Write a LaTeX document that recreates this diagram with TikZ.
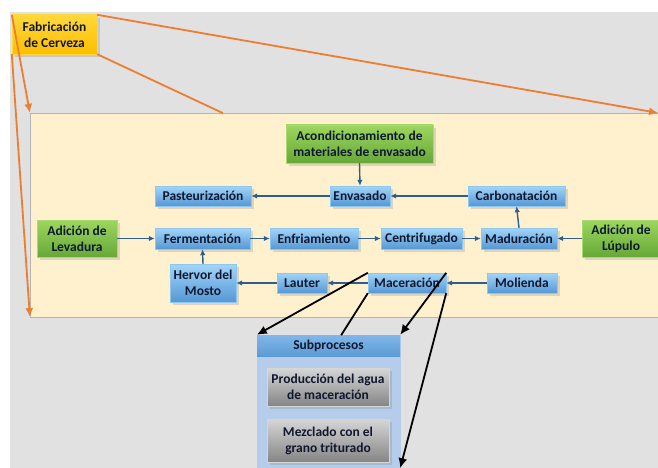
\documentclass[tikz,border=0pt]{standalone}
\usepackage{fontspec}
\setmainfont{Carlito}
\usetikzlibrary{calc,shadows,arrows.meta}

\definecolor{bgGray}{HTML}{E1E1E1}
\definecolor{panelBeige}{HTML}{FFF1CE}
\definecolor{lineOrange}{HTML}{ED7D31}
\definecolor{lineBlue}{HTML}{2F5D8C}
\definecolor{blueTop}{HTML}{A2D5F8}
\definecolor{blueBot}{HTML}{5598D6}
\definecolor{blueEdge}{HTML}{8CC8F2}
\definecolor{greenTop}{HTML}{9DD65E}
\definecolor{greenBot}{HTML}{66A838}
\definecolor{greenEdge}{HTML}{A8DA70}
\definecolor{yellowTop}{HTML}{FFD83A}
\definecolor{yellowBot}{HTML}{FFBE00}
\definecolor{grayTop}{HTML}{D6D6D6}
\definecolor{grayBot}{HTML}{858585}
\definecolor{subBody}{HTML}{B5CDEB}
\definecolor{subTop}{HTML}{82B6E8}
\definecolor{subBot}{HTML}{5B9BD5}
\definecolor{textDark}{HTML}{101830}

\tikzstyle{block} = [draw, rectangle, minimum height=20pt, inner sep=1pt,
                     align=center, text=textDark,
                     font=\fontsize{13.5}{16}\selectfont\bfseries,
                     drop shadow={opacity=0.25,shadow xshift=2.5pt,shadow yshift=-3pt}]
\tikzstyle{proc} = [block, draw=blueEdge, top color=blueTop, bottom color=blueBot]
\tikzstyle{feed} = [block, draw=greenEdge, top color=greenTop, bottom color=greenBot,
                    minimum height=37pt]
\tikzstyle{subitem} = [block, draw=grayTop, top color=grayTop, bottom color=grayBot,
                       minimum width=122pt]

\begin{document}
\begin{tikzpicture} [x=1pt, y=-1pt, >={Latex[length=6pt,width=5.5pt]}]

\useasboundingbox (0,0) rectangle (658,468);

\fill[bgGray] (10,12) rectangle (658,468);

\node at (344,215)[rectangle,fill=panelBeige,draw=bgGray!80!black,very thin,
                   minimum width=628pt,minimum height=204pt,inner sep=0pt]
                   (panel) {};

\node at (54.5,34.5)[block,draw=yellowTop,top color=yellowTop,bottom color=yellowBot,
                     minimum width=85pt,minimum height=39pt]
                     (fab) {Fabricación\\de Cerveza};

% lines from the title to the panel
\draw[lineOrange,line width=1.8pt]
      (fab.south east) -- ($(fab.south east)!0.224!(panel.south east)$);
\draw[-{Latex[length=9pt,width=8pt]},lineOrange,line width=1.8pt]
      (fab.north east) -- (panel.north east);
\draw[-{Latex[length=9pt,width=8pt]},lineOrange,line width=1.8pt]
      (fab.north west) -- (panel.north west);
\draw[-{Latex[length=9pt,width=8pt]},lineOrange,line width=1.8pt]
      (fab.south west) -- (panel.south west);

% top row
\node at (359.5,144)[feed,minimum width=147pt,minimum height=38pt]
      (acond) {Acondicionamiento de\\materiales de envasado};

\node at (203,196)[proc,minimum width=96pt] (past) {Pasteurización};
\node at (360,196)[proc,minimum width=60pt] (env) {Envasado};
\node at (516.5,196)[proc,minimum width=97pt] (carb) {Carbonatación};

% middle row
\node at (77,238.5)[feed,minimum width=80pt] (lev) {Adición de\\Levadura};
\node at (202.5,238.5)[proc,minimum width=95pt,minimum height=21pt] (ferm) {Fermentación};
\node at (314,238.5)[proc,minimum width=88pt,minimum height=21pt] (enfr) {Enfriamiento};
\node at (421.5,238.5)[proc,minimum width=81pt,minimum height=21pt] (cent) {Centrifugado};
\node at (519,238.5)[proc,minimum width=76pt,minimum height=21pt] (mad) {Maduración};
\node at (621,238.5)[feed,minimum width=78pt] (lup) {Adición de\\Lúpulo};

% bottom row
\node at (203,283)[proc,minimum width=66pt,minimum height=38pt] (herv) {Hervor del\\Mosto};
\node at (302,283)[proc,minimum width=50pt] (laut) {Lauter};
\node at (407,283)[proc,minimum width=78pt] (mac) {Maceración};
\node at (522,283)[proc,minimum width=70pt] (mol) {Molienda};

\draw[->,line width=1.4pt,lineBlue] (acond.south) -- (env.north);
\draw[->,line width=1.4pt,lineBlue] (env.west) -- (past.east);
\draw[->,line width=1.4pt,lineBlue] (carb.west) -- (env.east);
\draw[->,line width=1.4pt,lineBlue] (lev.east) -- (ferm.west);
\draw[->,line width=1.4pt,lineBlue] (ferm.east) -- (enfr.west);
\draw[->,line width=1.4pt,lineBlue] (enfr.east) -- (cent.west);
\draw[->,line width=1.4pt,lineBlue] (cent.east) -- (mad.west);
\draw[->,line width=1.4pt,lineBlue] (lup.west) -- (mad.east);
\draw[->,line width=1.4pt,lineBlue] (mad.north) -- (carb.south);
\draw[->,line width=1.4pt,lineBlue] (mol.west) -- (mac.east);
\draw[->,line width=1.4pt,lineBlue] (mac.west) -- (laut.east);
\draw[->,line width=1.4pt,lineBlue] (laut.west) -- (herv.east);
\draw[->,line width=1.4pt,lineBlue] (herv.north) -- (ferm.south);

% subprocesses of the mashing step
\node at (328.5,401.5)[rectangle,fill=subBody,draw=subBody,
                       minimum width=143pt,minimum height=133pt,inner sep=0pt]
                       (sub) {};
\node[rectangle,anchor=north,top color=subTop,bottom color=subBot,
      minimum width=143pt,minimum height=21pt,inner sep=0pt,text=textDark,
      font=\fontsize{13.5}{16}\selectfont\bfseries]
      at (sub.north) (subhead) {Subprocesos};

\node at (328,387)[subitem,minimum height=38pt] (agua) {Producción del agua\\de maceración};
\node at (328,440.5)[subitem,minimum height=43pt] (mezcla) {Mezclado con el\\grano triturado};

\draw[black,line width=1.8pt]
      (mac.south west) -- ($(mac.south west)!0.24!(sub.south west)$);
\draw[-{Latex[length=10pt,width=9pt]},black,line width=1.8pt]
      (mac.north west) -- (sub.north west);
\draw[-{Latex[length=10pt,width=9pt]},black,line width=1.8pt]
      (mac.north east) -- (sub.north east);
\draw[-{Latex[length=10pt,width=9pt]},black,line width=1.8pt]
      (mac.south east) -- (sub.south east);

\end{tikzpicture}
\end{document}
